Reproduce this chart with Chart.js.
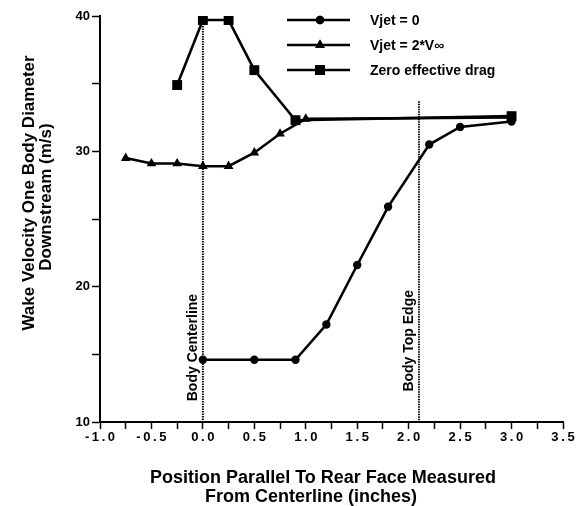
<!DOCTYPE html>
<html>
<head>
<meta charset="utf-8">
<script src="https://cdn.jsdelivr.net/npm/chart.js@4.4.0/dist/chart.umd.min.js"></script>
<style>
  html, body { margin: 0; padding: 0; background: #fff; }
</style>
</head>
<body>
<canvas id="wakeChart" width="577" height="506"></canvas>
<script>
// Vjet = 0 (circles)
const xJetOff = [0, 0.5, 0.9, 1.2, 1.5, 1.8, 2.2, 2.5, 3.0];
const yJetOff = [14.6, 14.6, 14.6, 17.2, 21.6, 25.9, 30.5, 31.8, 32.2];
// Vjet = 2*Vinf (triangles)
const xJet2 = [-0.75, -0.5, -0.25, 0, 0.25, 0.5, 0.75, 1.0, 3.0];
const yJet2 = [29.5, 29.1, 29.1, 28.9, 28.9, 29.9, 31.3, 32.4, 32.5];
// Zero effective drag (squares)
const xZero = [-0.25, 0, 0.25, 0.5, 0.9, 3.0];
const yZero = [34.9, 39.7, 39.7, 36.0, 32.3, 32.6];

const seriesNames = ['Vjet = 0', 'Vjet = 2*V\u221e', 'Zero effective drag'];
const xTicks = [-1.0, -0.5, 0.0, 0.5, 1.0, 1.5, 2.0, 2.5, 3.0, 3.5];
const yTicks = [10, 20, 30, 40];

// dotted reference lines: x position, top value, label
const refX = [0, 2.1];
const refTop = [40, 33.7];
const refLabels = ['Body Centerline', 'Body Top Edge'];
const refLabelY = [15.5, 16.0];

const xTitle = ['Position Parallel To Rear Face Measured', 'From Centerline (inches)'];
const yTitle = ['Wake Velocity One Body Diameter', 'Downstream (m/s)'];

const pts = (xs, ys) => xs.map((x, i) => ({ x: x, y: ys[i] }));
const spaced = s => s.split('').join('\u2009');

function series(label, data, style, radius) {
    return {
        label: label,
        data: data,
        showLine: true,
        borderColor: '#000',
        backgroundColor: '#000',
        borderWidth: 2.6,
        pointStyle: style,
        pointRadius: radius,
        pointHoverRadius: radius,
        pointBorderWidth: 0,
        tension: 0
    };
}

const FONT = '"Liberation Sans", Arial, sans-serif';

// dotted vertical markers with rotated labels
const refLinesPlugin = {
    id: 'refLines',
    beforeDatasetsDraw(chart) {
        const ctx = chart.ctx, xs = chart.scales.x, ys = chart.scales.y;
        ctx.save();
        refX.forEach((v, i) => {
            const px = xs.getPixelForValue(v);
            ctx.strokeStyle = '#111';
            ctx.lineWidth = 2;
            ctx.setLineDash([1.5, 1]);
            ctx.beginPath();
            ctx.moveTo(px, ys.getPixelForValue(refTop[i]));
            ctx.lineTo(px, ys.getPixelForValue(10));
            ctx.stroke();
            ctx.setLineDash([]);
            ctx.save();
            ctx.translate(px - 10, ys.getPixelForValue(refLabelY[i]));
            ctx.rotate(-Math.PI / 2);
            ctx.fillStyle = '#000';
            ctx.font = 'bold 14px ' + FONT;
            ctx.textAlign = 'center';
            ctx.textBaseline = 'middle';
            ctx.fillText(refLabels[i], 0, 0);
            ctx.restore();
        });
        ctx.restore();
    }
};

// legend with line + marker, and the two axis titles
const annotPlugin = {
    id: 'annot',
    afterDraw(chart) {
        const ctx = chart.ctx;
        ctx.save();
        chart.data.datasets.forEach((ds, i) => {
            const y = 20 + i * 25;
            ctx.strokeStyle = '#000';
            ctx.lineWidth = 2.6;
            ctx.beginPath();
            ctx.moveTo(287, y);
            ctx.lineTo(350, y);
            ctx.stroke();
            ctx.fillStyle = '#000';
            Chart.helpers.drawPoint(ctx, { pointStyle: ds.pointStyle, radius: ds.pointRadius, borderWidth: 0, rotation: 0 }, 320, y);
            ctx.fill();
            ctx.font = 'bold 14px ' + FONT;
            ctx.textAlign = 'left';
            ctx.textBaseline = 'middle';
            ctx.fillText(ds.label, 370, y + 1);
        });

        ctx.font = 'bold 18px ' + FONT;
        ctx.textAlign = 'center';
        ctx.textBaseline = 'middle';
        ctx.fillText(xTitle[0], 323, 478);
        ctx.fillText(xTitle[1], 311, 497);

        ctx.font = 'bold 17px ' + FONT;
        ctx.save();
        ctx.translate(29, 193);
        ctx.rotate(-Math.PI / 2);
        ctx.fillText(yTitle[0], 0, 0);
        ctx.fillText(yTitle[1], -4, 17);
        ctx.restore();
        ctx.restore();
    }
};

const config = {
    type: 'scatter',
    data: {
        datasets: [
            series(seriesNames[0], pts(xJetOff, yJetOff), 'circle', 4.2),
            series(seriesNames[1], pts(xJet2, yJet2), 'triangle', 5.6),
            series(seriesNames[2], pts(xZero, yZero), 'rect', 7)
        ]
    },
    options: {
        responsive: false,
        animation: false,
        devicePixelRatio: 1,
        layout: { padding: { top: 16, right: 14, left: 0, bottom: 0 } },
        plugins: { legend: { display: false }, tooltip: { enabled: false } },
        scales: {
            x: {
                type: 'linear',
                min: -1,
                max: 3.5,
                afterFit: s => { s.height = 84; },
                afterBuildTicks: s => {
                    const t = [];
                    for (let k = 0; k <= 18; k++) t.push({ value: -1 + k * 0.25 });
                    s.ticks = t;
                },
                ticks: {
                    autoSkip: false,
                    maxRotation: 0,
                    padding: 1,
                    color: '#000',
                    font: { family: FONT, size: 13, weight: 'bold' },
                    callback: v => {
                        const hit = xTicks.find(t => Math.abs(t - v) < 1e-6);
                        return hit === undefined ? '' : spaced(hit.toFixed(1));
                    }
                },
                grid: { drawOnChartArea: false, tickLength: 7, tickColor: '#000', tickWidth: 1.5 },
                border: { color: '#000', width: 2 }
            },
            y: {
                min: 10,
                max: 40,
                afterFit: s => { s.width = 100; },
                ticks: {
                    stepSize: 5,
                    padding: 2,
                    color: '#000',
                    font: { family: FONT, size: 13, weight: 'bold' },
                    callback: v => yTicks.includes(v) ? String(v) : ''
                },
                grid: { drawOnChartArea: false, tickLength: 8, tickColor: '#000', tickWidth: 1.5 },
                border: { color: '#000', width: 2 }
            }
        }
    },
    plugins: [refLinesPlugin, annotPlugin]
};

const wakeChart = new Chart(document.getElementById('wakeChart'), config);
</script>
</body>
</html>
